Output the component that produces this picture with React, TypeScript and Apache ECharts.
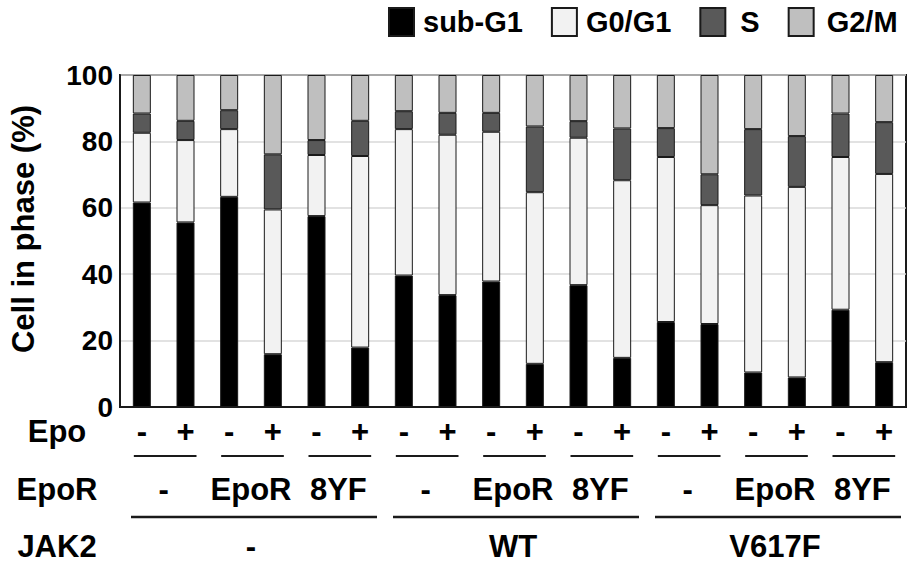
import React, { useEffect, useRef } from "react";
import * as echarts from "echarts";

const FONT = "'Liberation Sans', Arial, Helvetica, sans-serif";

// categories (18 bars): JAK2 group / EpoR / Epo
const jak2Labels = ["-", "WT", "V617F"];
const eporLabels = ["-", "EpoR", "8YF", "-", "EpoR", "8YF", "-", "EpoR", "8YF"];
const epoLabels = ["-", "+", "-", "+", "-", "+", "-", "+", "-", "+", "-", "+", "-", "+", "-", "+", "-", "+"];
const categories = epoLabels.map(
  (e, i) => `${jak2Labels[Math.floor(i / 6)]} / ${eporLabels[Math.floor(i / 2)]} / ${e}`
);
const eporCategories = eporLabels.map((e, i) => `${jak2Labels[Math.floor(i / 3)]} / ${e}`);

const seriesNames = ["sub-G1", "G0/G1", "S", "G2/M"];
const subG1 = [61.6, 55.6, 63.3, 15.9, 57.5, 17.9, 39.6, 33.7, 37.8, 13.0, 36.7, 14.8, 25.6, 25.0, 10.4, 8.9, 29.3, 13.5];
const g0g1 = [21.0, 24.8, 20.4, 43.6, 18.4, 57.7, 44.1, 48.3, 45.1, 51.7, 44.4, 53.5, 49.7, 35.8, 53.3, 57.4, 46.0, 56.7];
const sPhase = [5.8, 5.8, 5.7, 16.6, 4.5, 10.6, 5.4, 6.6, 5.7, 19.8, 5.0, 15.6, 8.7, 9.3, 20.0, 15.3, 13.1, 15.6];
const g2m = [11.6, 13.8, 10.6, 23.9, 19.6, 13.8, 10.9, 11.4, 11.4, 15.5, 13.9, 16.1, 16.0, 29.9, 16.3, 18.4, 11.6, 14.2];
const seriesValues = [subG1, g0g1, sPhase, g2m];
const seriesColors = ["#000000", "#f2f2f2", "#595959", "#bfbfbf"];
const legendTextPad = [4, 4, 10, 8];

const yTicks = [0, 20, 40, 60, 80, 100];
const rowTitles = ["Epo", "EpoR", "JAK2"];

export default function App() {
  const ref = useRef<HTMLDivElement>(null);

  useEffect(() => {
    if (!ref.current) return;
    const chart = echarts.init(ref.current, null, { renderer: "svg" });

    const labelText = { color: "#000", fontFamily: FONT, fontWeight: "bold" as const, fontSize: 28 };
    const rowText = { ...labelText, fontSize: 31 };

    const option: any = {
      animation: false,
      backgroundColor: "#fff",
      legend: {
        left: 383,
        top: 2,
        itemWidth: 25,
        itemHeight: 28,
        itemGap: 28,
        icon: "rect",
        selectedMode: false,
        textStyle: { ...labelText, fontSize: 29 },
        data: seriesNames.map((name, k) => ({
          name,
          textStyle: { padding: [0, 0, 0, legendTextPad[k]] },
        })),
      },
      grid: {
        left: 120,
        right: 1,
        top: 75,
        bottom: 158,
        show: true,
        borderColor: "#1a1a1a",
        borderWidth: 2,
        backgroundColor: "transparent",
        containLabel: false,
      },
      xAxis: [
        {
          type: "category",
          data: categories,
          position: "bottom",
          axisLine: { show: true, lineStyle: { color: "#1a1a1a", width: 2 } },
          axisTick: { show: false },
          axisLabel: {
            ...rowText,
            interval: 0,
            margin: 9,
            formatter: (_v: string, i: number) => epoLabels[i],
          },
        },
        {
          type: "category",
          data: eporCategories,
          position: "bottom",
          offset: 58,
          axisLine: { show: false },
          axisTick: { show: false },
          axisLabel: {
            ...rowText,
            interval: 0,
            margin: 9,
            formatter: (_v: string, i: number) => eporLabels[i],
          },
        },
        {
          type: "category",
          data: jak2Labels,
          position: "bottom",
          offset: 115,
          axisLine: { show: false },
          axisTick: { show: false },
          axisLabel: { ...rowText, interval: 0, margin: 9 },
        },
      ],
      yAxis: {
        type: "value",
        min: yTicks[0],
        max: yTicks[yTicks.length - 1],
        interval: 20,
        name: "Cell in phase (%)",
        nameLocation: "middle",
        nameGap: 81,
        nameTextStyle: { ...labelText, fontSize: 31, padding: [0, 0, 0, 24] },
        axisLine: { show: true, lineStyle: { color: "#1a1a1a", width: 2 } },
        axisTick: { show: false },
        axisLabel: { ...labelText, margin: 7, padding: [6, 0, 0, 0] },
        splitLine: { show: true, lineStyle: { color: "#d9d9d9", width: 1.5 } },
      },
      series: seriesNames.map((name, k) => ({
        name,
        type: "bar",
        stack: "total",
        barWidth: 18,
        data: seriesValues[k],
        itemStyle: {
          color: seriesColors[k],
          borderColor: "#1a1a1a",
          borderWidth: 1,
        },
        emphasis: { disabled: true },
      })),
    };

    chart.setOption(option);

    // Annotation lines and row titles, placed through the category axis scale
    const cx = (i: number) => chart.convertToPixel({ xAxisIndex: 0 }, i) as number;
    const band = cx(1) - cx(0);
    const graphics: any[] = [];
    const rowY = [431, 489, 546];
    rowTitles.forEach((t, r) => {
      graphics.push({
        type: "text",
        x: 57,
        y: rowY[r],
        style: {
          text: t,
          fill: "#000",
          font: `bold 31px ${FONT}`,
          textAlign: "center",
          textVerticalAlign: "middle",
        },
      });
    });
    for (let p = 0; p < epoLabels.length / 2; p++) {
      const a = cx(p * 2) - 8;
      const b = cx(p * 2 + 1) + 11;
      graphics.push({
        type: "line",
        shape: { x1: a, y1: 456, x2: b, y2: 456 },
        style: { stroke: "#1a1a1a", lineWidth: 2 },
      });
    }
    for (let g = 0; g < jak2Labels.length; g++) {
      const a = cx(g * 6) - band / 2 + 11;
      const b = cx(g * 6 + 5) + band / 2 - 5;
      graphics.push({
        type: "line",
        shape: { x1: a, y1: 517, x2: b, y2: 517 },
        style: { stroke: "#1a1a1a", lineWidth: 2.5 },
      });
    }
    chart.setOption({ graphic: graphics });

    return () => chart.dispose();
  }, []);

  return (
    <div
      ref={ref}
      style={{ position: "fixed", left: 0, top: 0, width: 907, height: 565, background: "#fff" }}
    />
  );
}
